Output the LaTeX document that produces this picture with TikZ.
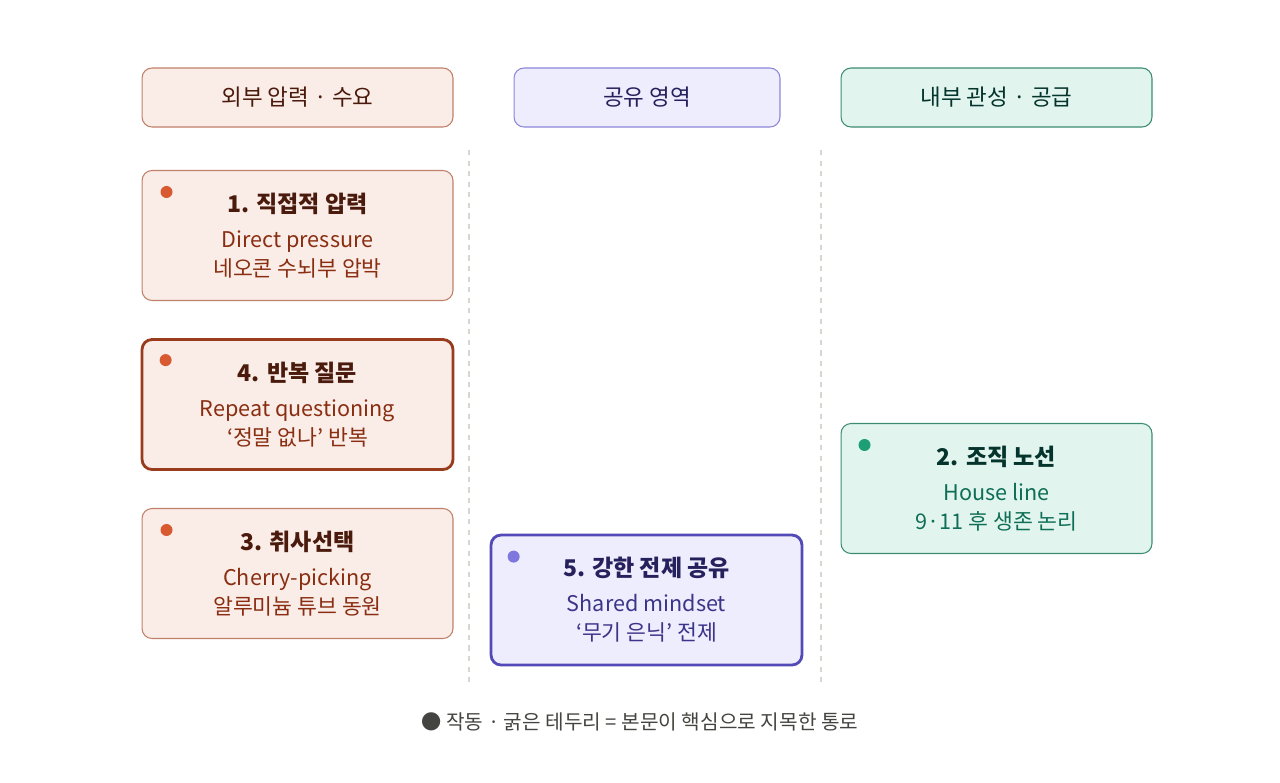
\documentclass[tikz,border=0pt]{standalone}
\usepackage{fontspec}
\setmainfont{Noto Sans CJK KR}
\usetikzlibrary{calc}

\definecolor{redfill}{HTML}{FAECE7}
\definecolor{redline}{HTML}{C07F68}
\definecolor{redhot}{HTML}{993C1D}
\definecolor{redtitle}{HTML}{4A1B0C}
\definecolor{redtext}{HTML}{8A2E12}
\definecolor{reddot}{HTML}{D85A30}
\definecolor{bluefill}{HTML}{EEEDFE}
\definecolor{blueline}{HTML}{8C86DA}
\definecolor{bluehot}{HTML}{534AB7}
\definecolor{bluetitle}{HTML}{26215C}
\definecolor{bluetext}{HTML}{3C3489}
\definecolor{bluedot}{HTML}{7F77DD}
\definecolor{greenfill}{HTML}{E1F5EE}
\definecolor{greenline}{HTML}{3C8C70}
\definecolor{greentitle}{HTML}{04342C}
\definecolor{greentext}{HTML}{0F6E56}
\definecolor{greendot}{HTML}{1D9E75}
\definecolor{divider}{HTML}{D8D6CE}
\definecolor{legendtext}{HTML}{444441}

\tikzset{
  head/.style={draw, rounded corners=0.2cm, line width=0.6pt, minimum height=1.18cm,
    font=\fontsize{12.8}{15}\selectfont},
  card/.style={draw, rounded corners=0.2cm, line width=0.6pt, minimum width=6.22cm,
    minimum height=2.6cm, align=center, font=\fontsize{12.3}{16.5}\selectfont},
  hot/.style={line width=1.6pt},
  redbox/.style={fill=redfill, draw=redline, text=redtext},
  bluebox/.style={fill=bluefill, draw=blueline, text=bluetext},
  greenbox/.style={fill=greenfill, draw=greenline, text=greentext},
  dot/.style={radius=0.12cm}
}
\newcommand{\cardtitle}[2]{{\color{#1}\fontsize{13.1}{15}\bfseries #2}\\[3.5pt]}

\begin{document}
\begin{tikzpicture}[x=0.02cm,y=-0.02cm]
    \useasboundingbox (0,0) rectangle (1280,782);

    % column dividers
    \draw[divider, dashed, line width=0.6pt] (469,150) -- (469,682);
    \draw[divider, dashed, line width=0.6pt] (821,150) -- (821,682);

    % headers
    \node (hdrL) at (297.5,97.5) [head, redbox, minimum width=6.22cm, text=redtitle] {외부 압력 · 수요};
    \node (hdrM) at (647,97.5) [head, bluebox, minimum width=5.32cm, text=bluetitle] {공유 영역};
    \node (hdrR) at (996.5,97.5) [head, greenbox, minimum width=6.22cm, text=greentitle] {내부 관성 · 공급};

    % cards
    \node (b1) at (297.5,235.5) [card, redbox] {\cardtitle{redtitle}{1. 직접적 압력}Direct pressure\\네오콘 수뇌부 압박};
    \node (b4) at (297.5,404.5) [card, redbox, hot, draw=redhot] {\cardtitle{redtitle}{4. 반복 질문}Repeat questioning\\‘정말 없나’ 반복};
    \node (b3) at (297.5,573.5) [card, redbox] {\cardtitle{redtitle}{3. 취사선택}Cherry-picking\\알루미늄 튜브 동원};
    \node (b5) at (646.5,600) [card, bluebox, hot, draw=bluehot] {\cardtitle{bluetitle}{5. 강한 전제 공유}Shared mindset\\‘무기 은닉’ 전제};
    \node (b2) at (996.5,488.5) [card, greenbox] {\cardtitle{greentitle}{2. 조직 노선}House line\\9·11 후 생존 논리};

    % dots
    \fill[reddot] ($(b1.north west)+(25,22)$) circle[dot];
    \fill[reddot] ($(b4.north west)+(25,22)$) circle[dot];
    \fill[reddot] ($(b3.north west)+(25,22)$) circle[dot];
    \fill[bluedot] ($(b5.north west)+(24,23)$) circle[dot];
    \fill[greendot] ($(b2.north west)+(24,22)$) circle[dot];

    % legend
    \node (legend) at (640,722) [text=legendtext, font=\fontsize{11.5}{14}\selectfont] {● 작동 · 굵은 테두리 = 본문이 핵심으로 지목한 통로};
\end{tikzpicture}
\end{document}
